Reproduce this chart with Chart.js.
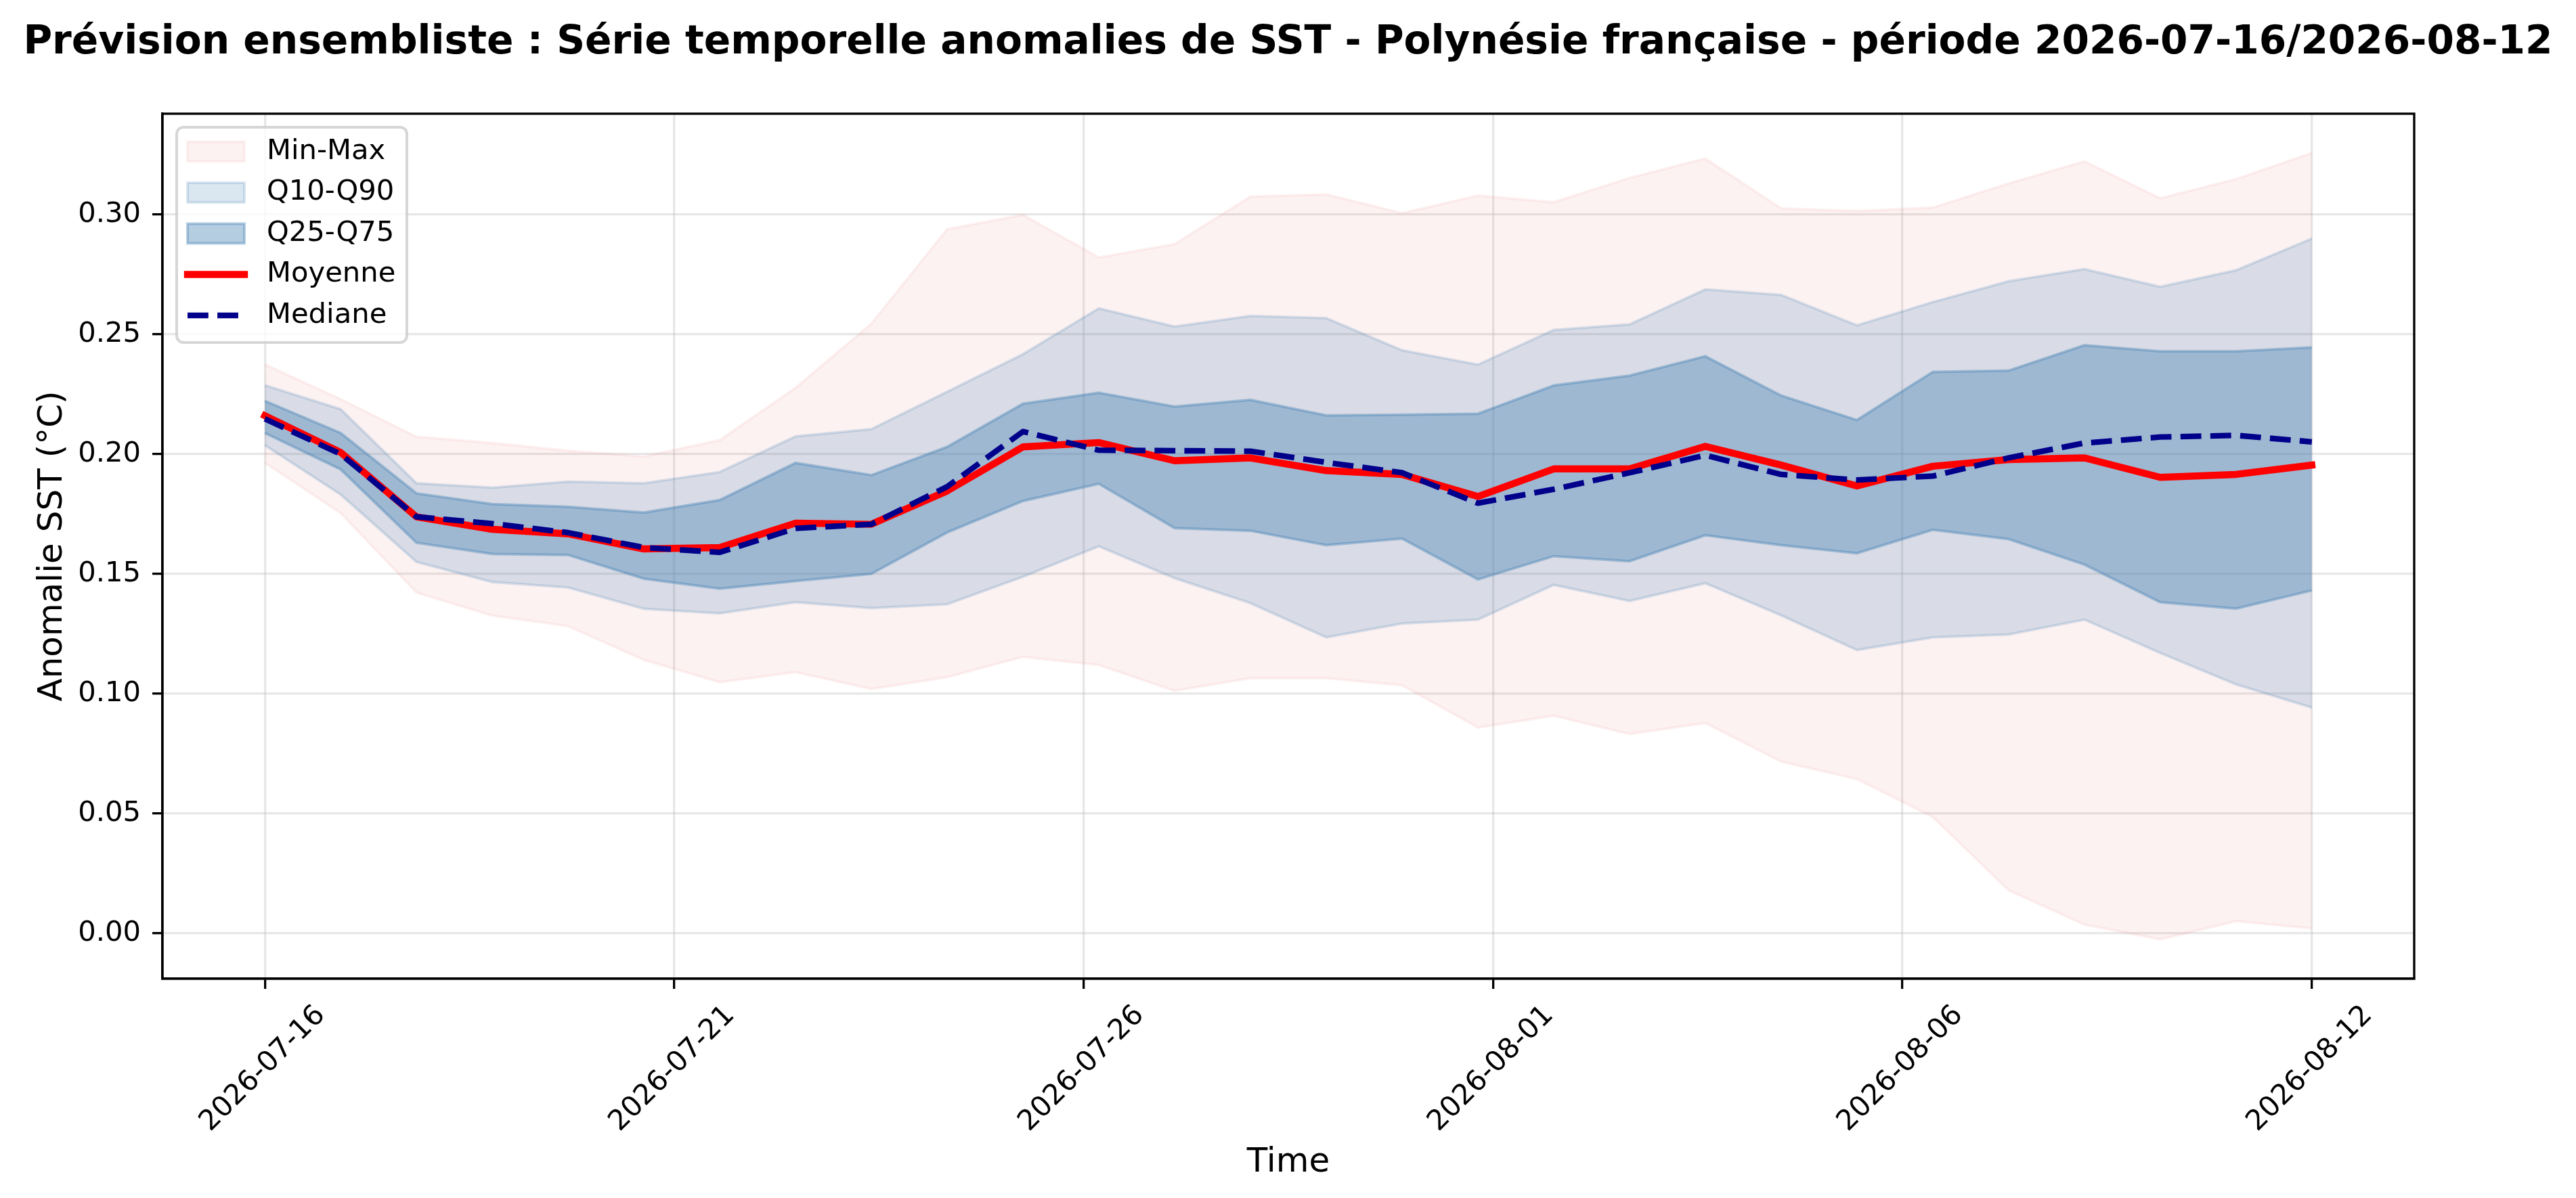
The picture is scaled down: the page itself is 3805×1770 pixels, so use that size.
<!DOCTYPE html>
<html>
<head>
<meta charset="utf-8">
<script src="https://cdn.jsdelivr.net/npm/chart.js@4.4.1/dist/chart.umd.min.js"></script>
<style>
  html, body { margin: 0; padding: 0; background: #fff; }
  #wrap { width: 3805px; height: 1770px; }
</style>
</head>
<body>
<div id="wrap"><canvas id="sstChart" width="3805" height="1770"></canvas></div>
<script>
// dates of the forecast (x categories, one per day)
var dates = [
  "2026-07-16", "2026-07-17", "2026-07-18", "2026-07-19", "2026-07-20", "2026-07-21", "2026-07-22",
  "2026-07-23", "2026-07-24", "2026-07-25", "2026-07-26", "2026-07-27", "2026-07-28", "2026-07-29",
  "2026-07-30", "2026-07-31", "2026-08-01", "2026-08-02", "2026-08-03", "2026-08-04", "2026-08-05",
  "2026-08-06", "2026-08-07", "2026-08-08", "2026-08-09", "2026-08-10", "2026-08-11", "2026-08-12"
];

// x ticks (position in day index) and their labels
var tickPositions = [0, 5.4, 10.8, 16.2, 21.6, 27];
var tickLabels = ["2026-07-16", "2026-07-21", "2026-07-26", "2026-08-01", "2026-08-06", "2026-08-12"];
var yTicks = [0.00, 0.05, 0.10, 0.15, 0.20, 0.25, 0.30];

// ensemble statistics (°C)
var minVals = [0.1964, 0.1754, 0.1422, 0.1326, 0.1282, 0.1141, 0.1048, 0.1090, 0.1020, 0.1069, 0.1154, 0.1120, 0.1012, 0.1065,
               0.1065, 0.1035, 0.0859, 0.0908, 0.0832, 0.0878, 0.0717, 0.0644, 0.0486, 0.0180, 0.0037, -0.0025, 0.0051, 0.0021];
var maxVals = [0.2374, 0.2229, 0.2072, 0.2046, 0.2014, 0.1990, 0.2058, 0.2276, 0.2544, 0.2938, 0.2998, 0.2820, 0.2876, 0.3074,
               0.3083, 0.3005, 0.3078, 0.3051, 0.3152, 0.3233, 0.3025, 0.3014, 0.3028, 0.3129, 0.3221, 0.3067, 0.3147, 0.3256];
var q10Vals = [0.2037, 0.1831, 0.1550, 0.1466, 0.1443, 0.1354, 0.1335, 0.1382, 0.1357, 0.1373, 0.1488, 0.1615, 0.1482, 0.1378,
               0.1235, 0.1293, 0.1309, 0.1454, 0.1387, 0.1461, 0.1327, 0.1182, 0.1235, 0.1247, 0.1309, 0.1170, 0.1039, 0.0942];
var q90Vals = [0.2287, 0.2187, 0.1878, 0.1860, 0.1885, 0.1878, 0.1925, 0.2074, 0.2104, 0.2260, 0.2417, 0.2608, 0.2532, 0.2576,
               0.2567, 0.2433, 0.2373, 0.2518, 0.2541, 0.2687, 0.2664, 0.2537, 0.2634, 0.2721, 0.2772, 0.2698, 0.2767, 0.2899];
var q25Vals = [0.2088, 0.1936, 0.1630, 0.1583, 0.1579, 0.1480, 0.1438, 0.1470, 0.1500, 0.1673, 0.1804, 0.1876, 0.1691, 0.1680,
               0.1620, 0.1647, 0.1477, 0.1574, 0.1553, 0.1661, 0.1620, 0.1586, 0.1684, 0.1645, 0.1539, 0.1382, 0.1355, 0.1431];
var q75Vals = [0.2222, 0.2088, 0.1836, 0.1791, 0.1780, 0.1756, 0.1808, 0.1963, 0.1912, 0.2030, 0.2210, 0.2256, 0.2198, 0.2226,
               0.2161, 0.2164, 0.2168, 0.2286, 0.2327, 0.2408, 0.2244, 0.2142, 0.2343, 0.2348, 0.2454, 0.2429, 0.2429, 0.2445];
var meanVals = [0.2160, 0.2007, 0.1738, 0.1686, 0.1667, 0.1604, 0.1610, 0.1712, 0.1707, 0.1846, 0.2030, 0.2048, 0.1972, 0.1984,
                0.1931, 0.1915, 0.1823, 0.1938, 0.1938, 0.2032, 0.1954, 0.1867, 0.1949, 0.1977, 0.1984, 0.1903, 0.1915, 0.1954];
var medianVals = [0.2147, 0.2000, 0.1738, 0.1710, 0.1672, 0.1610, 0.1590, 0.1690, 0.1707, 0.1864, 0.2094, 0.2016, 0.2014, 0.2012,
                  0.1965, 0.1922, 0.1795, 0.1853, 0.1922, 0.1995, 0.1915, 0.1892, 0.1908, 0.1984, 0.2046, 0.2071, 0.2078, 0.2051];

var TITLE = "Prévision ensembliste : Série temporelle anomalies de SST - Polynésie française - période 2026-07-16/2026-08-12";

var PINK = "rgba(240,128,128,0.1)";
var BLUE_LIGHT = "rgba(70,130,180,0.2)";
var BLUE_DARK = "rgba(70,130,180,0.4)";

// title size chosen so the title is as wide as in the original figure
var measureCtx = document.createElement("canvas").getContext("2d");
measureCtx.font = "bold 100px 'DejaVu Sans'";
var titleSize = Math.min(59.5, 100 * 3737 / measureCtx.measureText(TITLE).width);
var titleTop = 64.3 - 0.6 * titleSize;

function pts(vals) {
  return vals.map(function(v, i) { return { x: i, y: v }; });
}

function band(vals, color, label, order, fill) {
  return {
    label: label,
    kind: "patch",
    data: pts(vals),
    borderColor: color,
    backgroundColor: color,
    borderWidth: 4,
    pointRadius: 0,
    tension: 0,
    fill: fill,
    order: order
  };
}

var datasets = [
  band(minVals, PINK, "", 7, false),
  band(maxVals, PINK, "Min-Max", 6, "-1"),
  band(q10Vals, BLUE_LIGHT, "", 5, false),
  band(q90Vals, BLUE_LIGHT, "Q10-Q90", 4, "-1"),
  band(q25Vals, BLUE_DARK, "", 3, false),
  band(q75Vals, BLUE_DARK, "Q25-Q75", 2, "-1"),
  {
    label: "Moyenne",
    kind: "line",
    data: pts(meanVals),
    borderColor: "#ff0000",
    borderWidth: 10.4,
    borderCapStyle: "square",
    borderJoinStyle: "round",
    pointRadius: 0,
    tension: 0,
    fill: false,
    order: 1
  },
  {
    label: "Mediane",
    kind: "line",
    data: pts(medianVals),
    borderColor: "#00008b",
    borderWidth: 8.3,
    borderDash: [30.8, 13.3],
    borderCapStyle: "butt",
    borderJoinStyle: "round",
    pointRadius: 0,
    tension: 0,
    fill: false,
    order: 0
  }
];

// black box round the plot area
var frame = {
  id: "frame",
  afterDatasetsDraw: function(chart) {
    var a = chart.chartArea, ctx = chart.ctx;
    ctx.save();
    ctx.strokeStyle = "#000";
    ctx.lineWidth = 3.3;
    ctx.strokeRect(a.left, a.top, a.right - a.left, a.bottom - a.top);
    ctx.restore();
  }
};

// legend in the upper left corner of the plot
var legendBox = {
  id: "legendBox",
  afterDraw: function(chart) {
    var ctx = chart.ctx, a = chart.chartArea;
    var items = chart.data.datasets.filter(function(d) { return d.label; });
    var bx = a.left + 21, by = a.top + 20, bw = 340, rowH = 60.5;
    var bh = 36 + (items.length - 1) * rowH + 40;
    ctx.save();
    ctx.beginPath();
    ctx.roundRect(bx, by, bw, bh, 10);
    ctx.fillStyle = "rgba(255,255,255,0.8)";
    ctx.fill();
    ctx.strokeStyle = "rgba(204,204,204,0.8)";
    ctx.lineWidth = 4;
    ctx.stroke();
    ctx.font = "41.7px 'DejaVu Sans'";
    ctx.textBaseline = "middle";
    ctx.textAlign = "left";
    items.forEach(function(d, i) {
      var cy = by + 36 + i * rowH;
      var hx = bx + 16, hw = 84;
      if (d.kind === "patch") {
        ctx.fillStyle = d.backgroundColor;
        ctx.fillRect(hx, cy - 14.5, hw, 29);
        ctx.strokeStyle = d.borderColor;
        ctx.lineWidth = 4;
        ctx.strokeRect(hx, cy - 14.5, hw, 29);
      } else {
        ctx.beginPath();
        ctx.setLineDash(d.borderDash || []);
        ctx.lineCap = d.borderCapStyle;
        ctx.strokeStyle = d.borderColor;
        ctx.lineWidth = d.borderWidth;
        ctx.moveTo(hx, cy);
        ctx.lineTo(hx + hw, cy);
        ctx.stroke();
        ctx.setLineDash([]);
      }
      ctx.fillStyle = "#000";
      ctx.fillText(d.label, bx + 133, cy);
    });
    ctx.restore();
  }
};

Chart.defaults.font.family = "'DejaVu Sans', sans-serif";
Chart.defaults.color = "#000";

var gridOpts = {
  color: "rgba(176,176,176,0.3)",
  lineWidth: 3.3,
  tickColor: "#000",
  tickWidth: 3.3,
  tickLength: 15
};

new Chart(document.getElementById("sstChart").getContext("2d"), {
  type: "line",
  data: { datasets: datasets },
  options: {
    responsive: false,
    devicePixelRatio: 1,
    animation: false,
    layout: { padding: 0 },
    plugins: {
      legend: { display: false },
      tooltip: { enabled: false },
      title: {
        display: true,
        text: TITLE,
        font: { size: titleSize, weight: "bold" },
        color: "#000",
        padding: { top: titleTop, bottom: 168 - titleTop - 1.2 * titleSize }
      }
    },
    scales: {
      x: {
        type: "linear",
        min: -1.35,
        max: 28.35,
        afterBuildTicks: function(scale) {
          scale.ticks = tickPositions.map(function(v) { return { value: v }; });
        },
        afterFit: function(scale) { scale.height = 324; },
        ticks: {
          callback: function(value, index) { return tickLabels[index]; },
          minRotation: 45,
          maxRotation: 45,
          autoSkip: false,
          labelOffset: 83,
          padding: 15,
          font: { size: 41.7 }
        },
        grid: gridOpts,
        border: { display: true, color: "#000", width: 3.3 },
        title: {
          display: true,
          text: "Time",
          font: { size: 50 },
          padding: { top: 0, bottom: 22 }
        }
      },
      y: {
        type: "linear",
        min: -0.0189,
        max: 0.342,
        afterBuildTicks: function(scale) {
          scale.ticks = yTicks.map(function(v) { return { value: v }; });
        },
        afterFit: function(scale) { scale.width = 240; },
        ticks: {
          callback: function(value) { return value.toFixed(2); },
          padding: 17,
          font: { size: 41.7 }
        },
        grid: gridOpts,
        border: { display: true, color: "#000", width: 3.3 },
        title: {
          display: true,
          text: "Anomalie SST (°C)",
          font: { size: 50 },
          padding: { top: 48, bottom: 0 }
        }
      },
      // empty right scale, only keeps the right margin so the title stays centred
      yRight: {
        type: "linear",
        position: "right",
        display: true,
        afterFit: function(scale) { scale.width = 239; },
        ticks: { display: false },
        grid: { display: false },
        border: { display: false }
      }
    }
  },
  plugins: [frame, legendBox]
});
</script>
</body>
</html>
